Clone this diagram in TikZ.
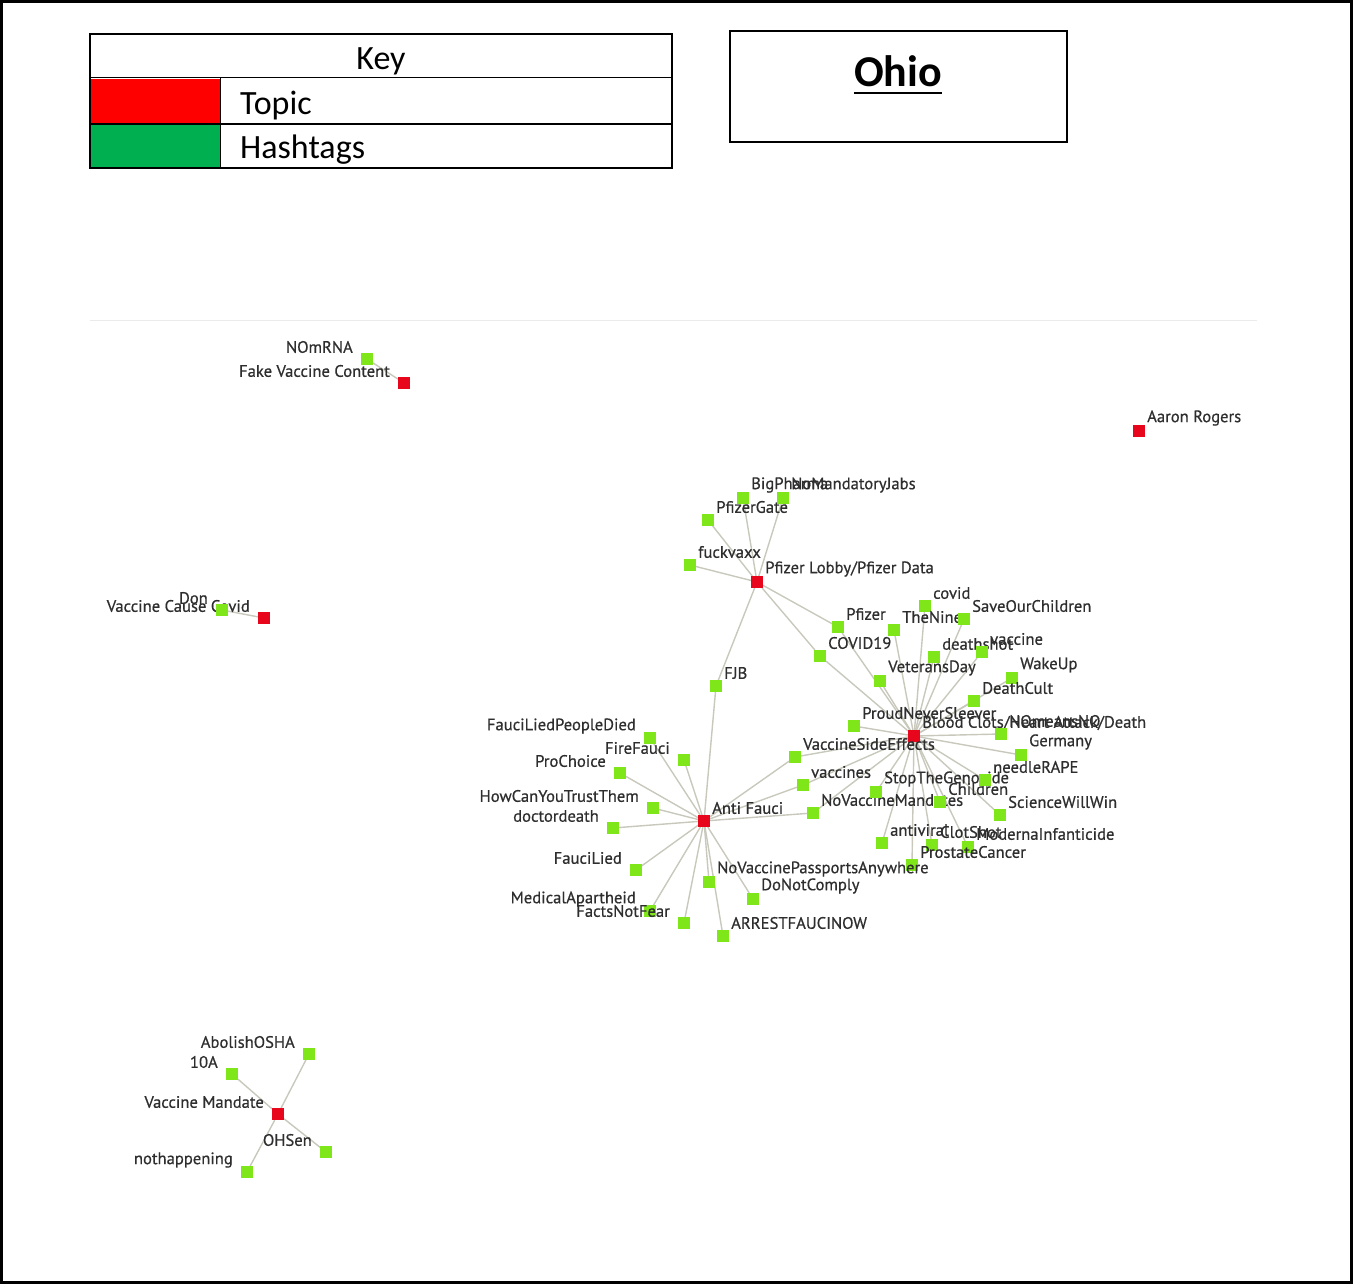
\documentclass[tikz,border=0pt]{standalone}
\usepackage{fontspec}
\setmainfont{Carlito}
\newfontfamily\lblfont[FakeBold=0.6]{PT Sans}
\usetikzlibrary{backgrounds}
\definecolor{topicred}{HTML}{E8061C}
\definecolor{hashgreen}{HTML}{7FE61A}
\definecolor{keyred}{HTML}{FF0000}
\definecolor{keygreen}{HTML}{00B050}
\definecolor{edgegray}{HTML}{C8C8BC}
\definecolor{lbltext}{HTML}{2E2E2E}
\definecolor{faint}{HTML}{EBEBEB}
% right-labelled node: name, x, y, text, style
\newcommand\nR[5]{\node[#5] (#1) at (#2,#3) {};
  \node[lbl,anchor=west] (#1-l) at ({#2+8},{#3-13}) {#4};}
% left-labelled node
\newcommand\nL[5]{\node[#5] (#1) at (#2,#3) {};
  \node[lbl,anchor=east] (#1-l) at ({#2-14},{#3-12}) {#4};}
\begin{document}
\begin{tikzpicture}[x=1pt,y=-1pt,
  tp/.style={fill=topicred,minimum size=12pt,inner sep=0pt,outer sep=0pt},
  hs/.style={fill=hashgreen,minimum size=12pt,inner sep=0pt,outer sep=0pt},
  lbl/.style={font=\lblfont\fontsize{16.6}{16.6}\selectfont,text=lbltext,inner sep=0pt},
  ed/.style={draw=edgegray,line width=1.4pt},
  keytxt/.style={font=\fontsize{34}{34}\selectfont,inner sep=0pt}]
\useasboundingbox (0,0) rectangle (1353,1284);
\draw[line width=2.5pt] (1.5,1.5) rectangle (1351.5,1282.5);

% Key table
\fill[keyred] (91,79) rectangle (220,124);
\fill[keygreen] (91,124) rectangle (220,168);
\draw[line width=1pt] (90,78) -- (672,78);
\draw[line width=2pt] (90,124) -- (672,124);
\draw[line width=1pt] (220,78) -- (220,168);
\draw[line width=1.4pt] (90,34) rectangle (672,168);
\node[keytxt,anchor=base] (keyt) at (381,70) {Key};
\node[keytxt,anchor=base west] (topict) at (240,115) {Topic};
\node[keytxt,anchor=base west] (hasht) at (240,159) {Hashtags};

% Ohio box
\draw[line width=2pt] (730,31) rectangle (1067,142);
\node[font=\bfseries\fontsize{44}{44}\selectfont,anchor=base,inner sep=0pt] (ohio) at (898,87) {Ohio};
\draw[line width=2.6pt] ([yshift=-6pt]ohio.base west) -- ([yshift=-6pt]ohio.base east);

% faint frame line of the network image
\draw[faint,line width=1pt] (90,321) -- (1257,321);

% Topics
\nL{fake}{404}{383}{Fake Vaccine Content}{tp}
\nR{aaron}{1139}{431}{Aaron Rogers}{tp}
\nL{vcc}{264}{618}{Vaccine Cause Covid}{tp}
\nR{pfl}{757}{582}{Pfizer Lobby/Pfizer Data}{tp}
\nR{anti}{704}{821}{Anti Fauci}{tp}
\nR{blood}{914}{736}{Blood Clots/Heart Attack/Death}{tp}
\nL{vm}{278}{1114}{Vaccine Mandate}{tp}

% Hashtags
\nL{nomrna}{367}{359}{NOmRNA}{hs}
\nL{don}{222}{610}{Don}{hs}

\nR{bigph}{743}{498}{BigPharma}{hs}
\nR{nomj}{783}{498}{NoMandatoryJabs}{hs}
\nR{pgate}{708}{520}{PfizerGate}{hs}
\nR{fvx}{690}{565}{fuckvaxx}{hs}
\nR{fjb}{716}{686}{FJB}{hs}

\nR{covid}{925}{606}{covid}{hs}
\nR{nine}{894}{630}{TheNine}{hs}
\nR{soc}{964}{619}{SaveOurChildren}{hs}
\nR{pfizer}{838}{627}{Pfizer}{hs}
\nR{covid19}{820}{656}{COVID19}{hs}
\nR{dshot}{934}{657}{deathshot}{hs}
\nR{vaccine}{982}{652}{vaccine}{hs}
\nR{vday}{880}{681}{VeteransDay}{hs}
\nR{wake}{1012}{678}{WakeUp}{hs}
\nR{dcult}{974}{701}{DeathCult}{hs}
\nR{proud}{854}{726}{ProudNeverSleever}{hs}
\nR{nomeans}{1001}{734}{NOmeansNO}{hs}
\nR{germany}{1021}{755}{Germany}{hs}
\nR{vse}{795}{757}{VaccineSideEffects}{hs}
\nR{vaccines}{803}{785}{vaccines}{hs}
\nR{nvm}{813}{813}{NoVaccineMandates}{hs}
\nR{stop}{876}{792}{StopTheGenocide}{hs}
\nR{children}{940}{802}{Children}{hs}
\nR{needle}{985}{780}{needleRAPE}{hs}
\nR{science}{1000}{815}{ScienceWillWin}{hs}
\nR{antiv}{882}{843}{antiviral}{hs}
\nR{clot}{932}{845}{ClotShot}{hs}
\nR{moderna}{968}{847}{ModernaInfanticide}{hs}
\nR{prostate}{912}{865}{ProstateCancer}{hs}

\nL{flpd}{650}{738}{FauciLiedPeopleDied}{hs}
\nL{fire}{684}{760}{FireFauci}{hs}
\nL{prochoice}{620}{773}{ProChoice}{hs}
\nL{howcan}{653}{808}{HowCanYouTrustThem}{hs}
\nL{docdeath}{613}{828}{doctordeath}{hs}
\nL{faucilied}{636}{870}{FauciLied}{hs}
\nL{medap}{650}{911}{MedicalApartheid}{hs}
\nL{facts}{684}{923}{FactsNotFear}{hs}
\nR{nvpa}{709}{882}{NoVaccinePassportsAnywhere}{hs}
\nR{dnc}{753}{899}{DoNotComply}{hs}
\nR{arrest}{723}{936}{ARRESTFAUCINOW}{hs}

\nL{abolish}{309}{1054}{AbolishOSHA}{hs}
\nL{tenA}{232}{1074}{10A}{hs}
\nL{ohsen}{326}{1152}{OHSen}{hs}
\nL{nothap}{247}{1172}{nothappening}{hs}

% Edges
\begin{pgfonlayer}{background}
\draw[ed] (fake) -- (nomrna);
\draw[ed] (vcc) -- (don);
\foreach \h in {bigph,nomj,pgate,fvx,fjb,pfizer,covid19}
  \draw[ed] (pfl) -- (\h);
\foreach \h in {fjb,flpd,fire,prochoice,howcan,docdeath,faucilied,medap,facts,nvpa,dnc,arrest,vse,vaccines,nvm}
  \draw[ed] (anti) -- (\h);
\foreach \h in {covid,nine,soc,pfizer,covid19,dshot,vaccine,vday,wake,dcult,proud,nomeans,germany,vse,vaccines,nvm,stop,children,needle,science,antiv,clot,moderna,prostate}
  \draw[ed] (blood) -- (\h);
\foreach \h in {abolish,tenA,ohsen,nothap}
  \draw[ed] (vm) -- (\h);
\end{pgfonlayer}
\end{tikzpicture}
\end{document}
